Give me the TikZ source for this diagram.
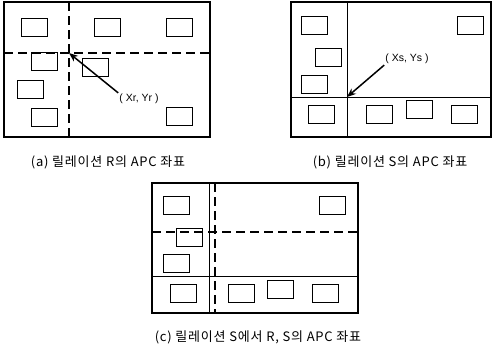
\documentclass[tikz,border=0pt]{standalone}
\usepackage{fontspec}
\setmainfont{Liberation Sans}
\newfontfamily\kr[LetterSpace=6]{Noto Sans CJK KR}
\usetikzlibrary{arrows.meta}
\tikzset{
  frame/.style={draw=black, line width=1.4pt},
  apc/.style={draw=black, line width=0.9pt, minimum width=26pt, minimum height=18pt, inner sep=0pt},
  dashln/.style={draw=black, line width=1.4pt, dash pattern=on 9pt off 5pt},
  solidln/.style={draw=black, line width=1pt},
  arr/.style={draw=black, line width=1.5pt, -{Stealth[length=9pt,width=7pt]}},
  coordlbl/.style={font=\fontsize{10.5}{12}\selectfont, inner sep=0pt},
  caption/.style={font=\kr\fontsize{13}{15}\selectfont, inner sep=0pt}
}
\begin{document}
\begin{tikzpicture}[x=1pt,y=-1pt]
\useasboundingbox (0,0) rectangle (494,349);
% ---------- (a) ----------
\node[frame, minimum width=206pt, minimum height=135pt, inner sep=0pt] (fa) at (107,69.5) {};
\coordinate (ia) at (69,53);
\draw[dashln] (69,2) -- (69,137);
\draw[dashln] (4,53) -- (210,53);
\node[apc] (a1) at (34,27.5) {};
\node[apc] (a2) at (107.5,27.5) {};
\node[apc] (a3) at (179,27.5) {};
\node[apc] (a4) at (44,61) {};
\node[apc] (a5) at (95.5,67) {};
\node[apc] (a6) at (30.5,89) {};
\node[apc] (a7) at (44,117.5) {};
\node[apc] (a8) at (179.5,116) {};
\node[coordlbl] (lr) at (139,99) {( Xr, Yr )};
\draw[arr] ([xshift=-1pt,yshift=1pt]lr.north west) -- (ia);
\node[caption] (ca) at (108,162) {(a) 릴레이션 R의 APC 좌표};
% ---------- (b) ----------
\node[frame, minimum width=200pt, minimum height=135pt, inner sep=0pt] (fb) at (391,69.5) {};
\coordinate (ib) at (347,97);
\draw[solidln] (347,2) -- (347,137);
\draw[solidln] (291,97) -- (491,97);
\node[apc] (b1) at (314.5,25) {};
\node[apc] (b2) at (470,25) {};
\node[apc] (b3) at (328.5,57.5) {};
\node[apc] (b4) at (314.5,84) {};
\node[apc] (b5) at (321.5,114.5) {};
\node[apc] (b6) at (379.5,114.5) {};
\node[apc] (b7) at (419,109) {};
\node[apc] (b8) at (464,114.5) {};
\node[coordlbl] (ls) at (407,59) {( Xs, Ys )};
\draw[arr] ([xshift=-1pt,yshift=-1pt]ls.south west) -- (ib);
\node[caption] (cb) at (390,162) {(b) 릴레이션 S의 APC 좌표};
% ---------- (c) ----------
\node[frame, minimum width=206pt, minimum height=130pt, inner sep=0pt] (fc) at (255,248) {};
\draw[solidln] (209,183) -- (209,313);
\draw[solidln] (152,276) -- (358,276);
\draw[dashln] (215,183) -- (215,313);
\draw[dashln] (152,232) -- (358,232);
\node[apc] (c1) at (176.5,205.5) {};
\node[apc] (c2) at (332,205.5) {};
\node[apc] (c3) at (189.5,237) {};
\node[apc] (c4) at (176.5,263) {};
\node[apc] (c5) at (183.5,293.5) {};
\node[apc] (c6) at (241,293.5) {};
\node[apc] (c7) at (280,289) {};
\node[apc] (c8) at (325.5,293.5) {};
\node[caption] (cc) at (258,337) {(c) 릴레이션 S에서 R, S의 APC 좌표};
\end{tikzpicture}
\end{document}
